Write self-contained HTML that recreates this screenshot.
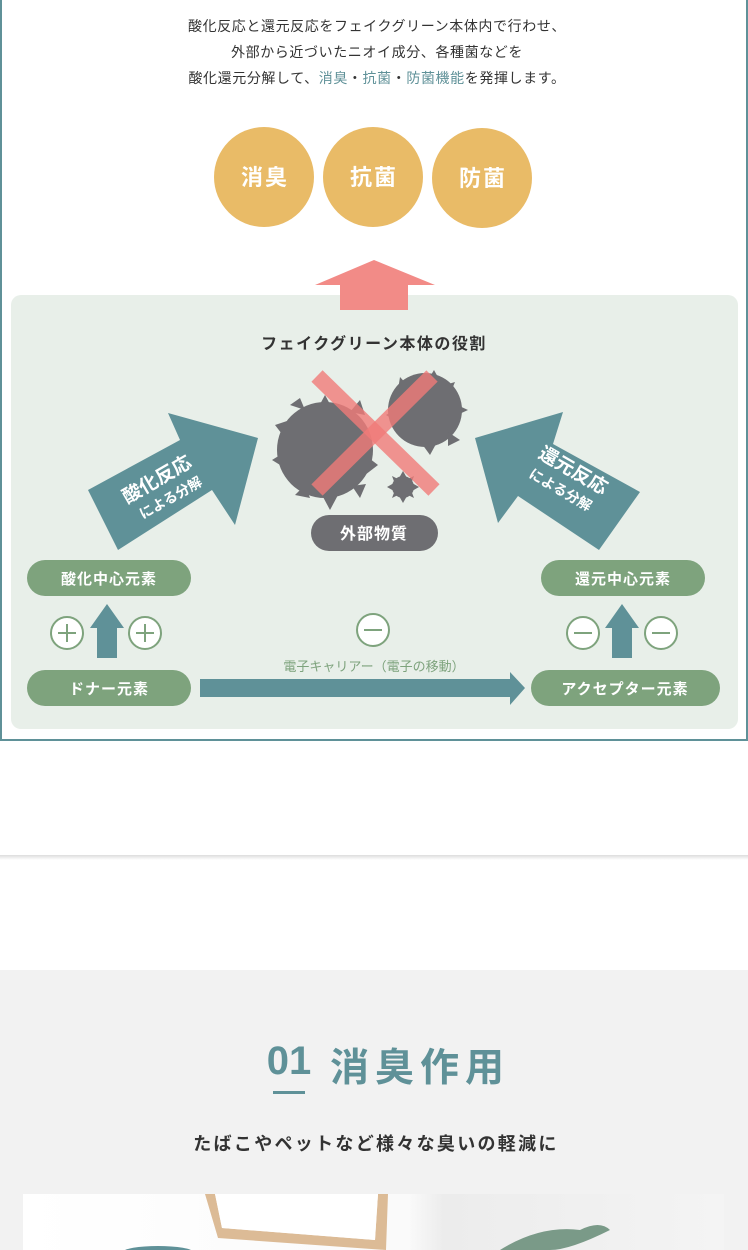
<!DOCTYPE html>
<html><head><meta charset="utf-8"><style>
html,body{margin:0;padding:0;width:748px;height:1250px;overflow:hidden;background:#fff;font-family:"Liberation Sans","Noto Sans CJK JP",sans-serif}
svg text{font-family:"Liberation Sans","Noto Sans CJK JP",sans-serif}
</style></head><body>
<svg width="748" height="1250" viewBox="0 0 748 1250" style="position:absolute;left:0;top:0">
<defs>
<linearGradient id="sh" x1="0" y1="0" x2="0" y2="1"><stop offset="0" stop-color="#ddd"/><stop offset="1" stop-color="#fff"/></linearGradient>
<linearGradient id="img" x1="0" y1="0" x2="1" y2="0"><stop offset="0" stop-color="#fff"/><stop offset="0.55" stop-color="#fafafa"/><stop offset="0.6" stop-color="#ececec"/><stop offset="1" stop-color="#f4f4f4"/></linearGradient>
</defs>
<rect x="1" y="-5" width="746" height="745" fill="#fff" stroke="#5f9198" stroke-width="2"/>
<g font-size="14" fill="#333" text-anchor="middle" letter-spacing="0.6">
<text x="377" y="31">酸化反応と還元反応をフェイクグリーン本体内で行わせ、</text>
<text x="377" y="57">外部から近づいたニオイ成分、各種菌などを</text>
<text x="377" y="83">酸化還元分解して、<tspan fill="#5f9198">消臭</tspan>・<tspan fill="#5f9198">抗菌</tspan>・<tspan fill="#5f9198">防菌機能</tspan>を発揮します。</text>
</g>
<g fill="#e9bb67"><circle cx="264" cy="177" r="50"/><circle cx="373" cy="177" r="50"/><circle cx="482" cy="178" r="50"/></g>
<g fill="#fff" font-size="22" font-weight="bold" text-anchor="middle" letter-spacing="2">
<text x="265" y="185">消臭</text><text x="374" y="185">抗菌</text><text x="483" y="186">防菌</text></g>
<rect x="11" y="295" width="727" height="434" rx="10" fill="#e8efe9"/>
<polygon points="374,260 435,285 408,285 408,310 340,310 340,285 315,285" fill="#f28b87"/>
<text x="374" y="349" font-size="16" font-weight="bold" fill="#333" text-anchor="middle" letter-spacing="1.5">フェイクグリーン本体の役割</text>
<polygon points="88,490 180,440 168,413 258,438 235,525 212,490 118,550" fill="#5f9198"/>
<polygon points="599,550 518,496 498,523 475,438 563,412 553,444 640,492" fill="#5f9198"/>
<g fill="#fff" font-weight="bold" text-anchor="middle">
<text font-size="19" transform="translate(160,485) rotate(-30)">酸化反応</text>
<text font-size="14" transform="translate(173,502) rotate(-30)">による分解</text>
<text font-size="19" transform="translate(570,476) rotate(30)">還元反応</text>
<text font-size="14" transform="translate(558,494) rotate(30)">による分解</text>
</g>
<g fill="#6e6e72">
<circle cx="325" cy="450" r="48"/>
<polygon points="300,398 305,410 290,405"/>
<polygon points="272,460 285,452 285,468"/>
<polygon points="275,425 290,420 285,438"/>
<polygon points="325,395 318,408 332,408"/>
<polygon points="330,510 322,495 338,495"/>
<polygon points="295,495 305,485 310,498"/>
<polygon points="378,465 365,455 365,475"/>
<polygon points="360,400 350,412 365,415"/>
<polygon points="360,498 352,486 366,484"/>
<circle cx="425" cy="410" r="37"/>
<polygon points="434,370 428,380 440,381"/>
<polygon points="400,377 410,388 398,390"/>
<polygon points="468,410 455,404 455,416"/>
<polygon points="386,415 398,408 398,422"/>
<polygon points="460,440 448,432 448,446"/>
<polygon points="430,455 422,444 436,444"/>
<polygon points="455,382 445,385 450,394"/>
<circle cx="403" cy="487" r="11"/>
<polygon points="403,471 399,478 407,478"/><polygon points="403,503 399,496 407,496"/>
<polygon points="387,487 394,483 394,491"/><polygon points="419,487 412,483 412,491"/>
<polygon points="392,476 398,479 395,484"/><polygon points="414,498 408,495 411,490"/>
<polygon points="414,476 408,479 411,484"/><polygon points="392,498 398,495 395,490"/>
</g>
<g stroke="#f07a78" stroke-opacity="0.8" stroke-width="16">
<line x1="317" y1="376" x2="434" y2="490"/><line x1="432" y1="376" x2="317" y2="490"/></g>
<rect x="311" y="515" width="127" height="36" rx="18" fill="#6e6e72"/>
<text x="374" y="539" font-size="16" font-weight="bold" fill="#fff" text-anchor="middle" letter-spacing="1">外部物質</text>
<g fill="#7ea37d">
<rect x="27" y="560" width="164" height="36" rx="18"/>
<rect x="541" y="560" width="164" height="36" rx="18"/>
<rect x="27" y="670" width="164" height="36" rx="18"/>
<rect x="531" y="670" width="189" height="36" rx="18"/>
</g>
<g fill="#fff" font-size="15" font-weight="bold" text-anchor="middle" letter-spacing="1">
<text x="109" y="584">酸化中心元素</text><text x="623" y="584">還元中心元素</text>
<text x="109" y="694">ドナー元素</text><text x="625" y="694">アクセプター元素</text></g>
<g fill="#5f9198">
<polygon points="107,604 124,628 117,628 117,658 97,658 97,628 90,628"/>
<polygon points="622,604 639,628 632,628 632,658 612,658 612,628 605,628"/>
<polygon points="200,679 510,679 510,672 525,688 510,705 510,697 200,697"/>
</g>
<g fill="#fff" stroke="#7ea37d" stroke-width="2">
<circle cx="67" cy="633" r="16"/><circle cx="145" cy="633" r="16"/>
<circle cx="373" cy="630" r="16"/><circle cx="583" cy="633" r="16"/><circle cx="661" cy="633" r="16"/>
</g>
<g stroke="#7ea37d" stroke-width="2">
<line x1="58" y1="633" x2="76" y2="633"/><line x1="67" y1="624" x2="67" y2="642"/>
<line x1="136" y1="633" x2="154" y2="633"/><line x1="145" y1="624" x2="145" y2="642"/>
<line x1="364" y1="630" x2="382" y2="630"/>
<line x1="574" y1="633" x2="592" y2="633"/><line x1="652" y1="633" x2="670" y2="633"/>
</g>
<text x="374" y="671" font-size="13" fill="#7ea37d" text-anchor="middle">電子キャリアー（電子の移動）</text>
<rect x="0" y="855" width="748" height="5" fill="url(#sh)"/>
<rect x="0" y="970" width="748" height="280" fill="#f2f2f2"/>
<text x="289" y="1074" font-size="40" fill="#5f9198" text-anchor="middle" font-weight="bold">01</text>
<text x="420" y="1081" font-size="39" fill="#5f9198" text-anchor="middle" font-weight="bold" letter-spacing="6">消臭作用</text>
<rect x="273" y="1091" width="32" height="3" fill="#5f9198"/>
<text x="376" y="1150" font-size="18" fill="#333" text-anchor="middle" font-weight="bold" letter-spacing="2.3">たばこやペットなど様々な臭いの軽減に</text>
<rect x="23" y="1194" width="701" height="56" fill="url(#img)"/>
<polygon points="205,1194 215,1194 222,1228 375,1240 378,1194 388,1194 386,1250 218,1238" fill="#dcbb96"/>
<polygon points="215,1194 378,1194 375,1240 222,1228" fill="#fff"/>
<ellipse cx="158" cy="1252" rx="35" ry="6" fill="#5f9198"/>
<path d="M500,1250 Q540,1225 580,1230 Q600,1220 610,1230 Q570,1250 550,1250Z" fill="#7a9a88"/>
</svg>
</body></html>
